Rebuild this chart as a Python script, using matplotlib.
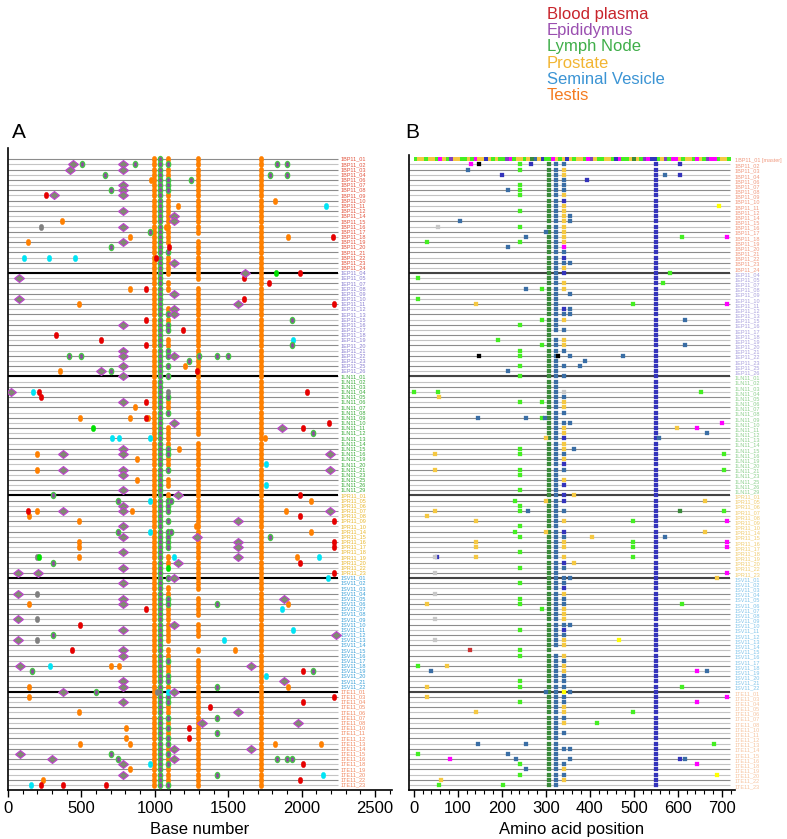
import numpy as np
import matplotlib
matplotlib.use("Agg")
import matplotlib.pyplot as plt
from matplotlib.markers import MarkerStyle
from matplotlib.transforms import Affine2D
from matplotlib.ticker import MultipleLocator

plt.rcParams['font.family'] = ['Liberation Sans', 'DejaVu Sans']

# ---- data ----
tissues = ["Blood plasma", "Epididymus", "Lymph Node", "Prostate", "Seminal Vesicle", "Testis"]
tissue_colors = ['#c8242b', '#9a4fb0', '#3fae49', '#f2b531', '#3b94d4', '#f47b20']

groups = ["1BP11_", "1EP11_", "1LN11_", "1PR11_", "1SV11_", "1TE11_"]
group_ids = [
    ['01','02','03','04','06','07','08','09','10','11','12','14','15','16','17','18','19','20','21','22','23','24'],
    ['04','05','07','08','09','10','11','12','13','15','16','17','18','19','20','21','22','23','25','26'],
    ['01','02','03','04','05','06','07','08','09','10','11','12','13','14','15','16','19','20','21','23','25','26','29'],
    ['01','05','06','07','08','09','10','14','15','16','17','18','19','20','22','23'],
    ['%02d' % i for i in range(1, 23)],
    ['01','03','04','05','06','07','08','10','11','12','13','14','15','16','18','19','20','22','23'],
]
label_colors_a = ['#e2553f', '#8a7fd0', '#3aaa3a', '#e8b830', '#3aa0d8', '#f08860']
label_colors_b = ['#f09a80', '#a9a0dd', '#8fd08f', '#f0cc70', '#80c4ea', '#f6c4a0']

# panel A: conserved columns (base positions) and per-row column codes
a_full_orange = [995, 1725]
a_green_col = 1035
a_col3_x = 1092
a_col3 = ("OGOOGGGOOOOOOOOOO.GOOO"
          "O.OO...OGOGG.OOGG.G.G..KGOOG..OOOOGGOOG.OO."
          "OGGG.G.GGGG.OOL.G.OOGGOOOOOOO.OOGOOGGOCGGOOGOGOGGOGOGOOOG")
a_col4_x = 1292
a_col4_gaps = [15, 24, 54, 84, 89, 93, 94, 96]

# panel A: scattered variants (row, base, type)
a_spots = [
    (1,440,'D'),(1,502,'G'),(1,786,'D'),(1,865,'G'),(1,1835,'G'),(1,1899,'G'),
    (2,422,'D'),(2,786,'D'),
    (3,661,'G'),(3,1785,'G'),(3,1899,'G'),
    (4,972,'O'),(4,1247,'G'),
    (5,786,'D'),
    (6,702,'G'),(6,786,'D'),
    (7,259,'R'),(7,316,'D'),(7,786,'D'),
    (8,1821,'O'),
    (9,1156,'O'),(9,2166,'C'),
    (10,786,'D'),
    (11,1129,'D'),
    (12,370,'O'),(12,1129,'D'),
    (13,223,'K'),(13,786,'D'),(13,1074,'O'),
    (14,965,'G'),
    (15,831,'O'),(15,1905,'O'),(15,2216,'R'),
    (16,139,'O'),(16,786,'D'),
    (17,702,'G'),(17,1097,'R'),
    (19,111,'C'),(19,282,'C'),(19,456,'C'),(19,1006,'R'),
    (20,1129,'D'),
    (22,1614,'D'),(22,1823,'L'),(22,1989,'R'),
    (23,77,'D'),(23,1610,'R'),
    (24,1778,'R'),
    (25,831,'O'),(25,938,'R'),
    (26,1129,'D'),
    (27,77,'D'),(27,1610,'R'),
    (28,484,'O'),(28,1567,'D'),(28,2220,'R'),
    (29,1129,'D'),
    (30,1129,'D'),
    (31,938,'R'),(31,1932,'G'),
    (32,786,'D'),
    (33,1194,'R'),
    (34,329,'R'),
    (35,631,'R'),(35,1944,'C'),
    (36,938,'R'),(36,1932,'G'),
    (37,786,'D'),
    (38,418,'G'),(38,499,'G'),(38,786,'D'),(38,1129,'D'),(38,1303,'G'),(38,1424,'G'),(38,1501,'G'),
    (39,1235,'G'),
    (40,786,'D'),(40,1206,'O'),
    (41,356,'O'),(41,631,'D'),(41,704,'G'),(41,1285,'R'),
    (42,786,'D'),
    (45,23,'D'),(45,168,'C'),(45,214,'R'),(45,2039,'R'),
    (46,223,'R'),
    (47,786,'D'),(47,938,'R'),
    (48,865,'O'),
    (50,493,'O'),(50,831,'O'),(50,938,'R'),(50,951,'O'),
    (51,1129,'D'),(51,2187,'R'),
    (52,577,'L'),(52,1869,'D'),(52,2012,'R'),
    (53,2080,'G'),
    (54,706,'C'),(54,756,'C'),(54,970,'C'),(54,1747,'O'),
    (56,786,'D'),(56,1165,'O'),
    (57,198,'O'),(57,375,'D'),(57,786,'D'),(57,2196,'D'),
    (58,881,'O'),
    (59,1757,'C'),
    (60,198,'O'),(60,375,'D'),(60,786,'D'),(60,2196,'D'),
    (61,786,'D'),
    (62,881,'O'),
    (63,1757,'C'),
    (64,786,'D'),
    (65,309,'G'),(65,1160,'D'),(65,1989,'R'),
    (66,749,'G'),(66,970,'C'),(66,1110,'G'),(66,2064,'O'),
    (67,786,'D'),
    (68,136,'R'),(68,198,'O'),(68,375,'D'),(68,786,'D'),(68,845,'O'),(68,1892,'O'),(68,2196,'D'),
    (69,141,'O'),(69,1989,'R'),
    (70,484,'O'),(70,1567,'D'),(70,2220,'R'),
    (71,786,'D'),(71,1278,'O'),
    (72,749,'G'),(72,970,'C'),(72,1110,'G'),(72,2064,'O'),
    (73,786,'D'),(73,1285,'D'),(73,1785,'G'),
    (74,484,'O'),(74,1567,'D'),(74,2220,'R'),
    (75,484,'O'),(75,1567,'D'),(75,2220,'R'),
    (76,786,'D'),
    (77,195,'K'),(77,214,'L'),(77,484,'O'),(77,1129,'C'),(77,1567,'D'),(77,1966,'O'),(77,2119,'C'),
    (78,309,'G'),(78,1160,'D'),(78,1989,'R'),
    (79,786,'D'),
    (80,70,'D'),(80,202,'D'),(80,2220,'R'),
    (81,1129,'D'),(81,2182,'C'),
    (82,786,'D'),
    (84,70,'D'),(84,195,'K'),
    (85,786,'D'),(85,1880,'D'),
    (86,141,'O'),(86,786,'D'),(86,1424,'G'),(86,1905,'O'),
    (87,938,'R'),(87,1864,'C'),
    (89,70,'D'),(89,195,'K'),
    (90,490,'R'),(90,1129,'D'),
    (91,786,'D'),(91,1944,'C'),
    (92,309,'G'),(92,2232,'D'),
    (93,70,'D'),(93,195,'K'),(93,1469,'C'),
    (95,436,'R'),(95,786,'D'),(95,1544,'O'),
    (96,786,'D'),
    (98,82,'D'),(98,284,'C'),(98,704,'O'),(98,758,'O'),(98,1658,'D'),
    (99,166,'G'),(99,2012,'R'),(99,2080,'G'),
    (100,1757,'C'),
    (101,786,'D'),(101,1880,'D'),
    (102,141,'O'),(102,786,'D'),(102,1424,'G'),(102,1905,'O'),
    (103,375,'D'),(103,602,'G'),(103,1013,'K'),(103,1129,'D'),
    (104,141,'O'),(104,2220,'R'),
    (105,786,'D'),(105,2012,'R'),
    (106,1378,'R'),
    (107,484,'O'),(107,1567,'D'),
    (108,1424,'G'),
    (109,1322,'D'),(109,1978,'D'),
    (110,804,'O'),(110,1235,'R'),
    (111,1424,'G'),
    (112,804,'O'),(112,1235,'R'),
    (113,493,'O'),(113,831,'O'),(113,1821,'O'),(113,2130,'O'),
    (114,1129,'D'),(114,1658,'D'),
    (115,82,'D'),(115,704,'G'),
    (116,298,'D'),(116,751,'G'),(116,1129,'D'),(116,1835,'G'),(116,1899,'G'),(116,1932,'G'),
    (117,786,'D'),(117,970,'C'),(117,2012,'R'),
    (118,831,'O'),
    (119,786,'D'),(119,1424,'G'),(119,2148,'C'),
    (120,238,'O'),(120,1989,'R'),
    (121,155,'C'),(121,227,'R'),(121,377,'R'),(121,668,'R'),
]

# panel B: master row stripe, conserved columns and scattered variants
b_stripe = ("lyylyylmylpyyllylmyybylyllpmlyylygsybllmylybylyylm"
            "pyllyylbmllygylpmbblyplmmylyylmylpmmlyyl")
b_stripe_end = 720
b_dkgreen_x = 308
b_steel_x = 323
b_steel_gaps = [34, 95]
b_col3_x = 342
b_col3 = (".syysssybyyyyyyyymsbsyb"
          ".yy...bsy.s.yys..s.s..asyys.syybyysybs.yb.b"
          "b.s.y.bsyy.ybs.ssbyssyyysbsyy.ysyysssYssyysy.s..s..sysy.")
b_blue_x = 551
b_spots = [
    (1,129,'m'),(1,148,'k'),(1,242,'l'),(1,267,'b'),(1,606,'b'),
    (2,122,'s'),(2,242,'l'),
    (3,201,'b'),(3,570,'s'),(3,606,'b'),
    (4,393,'b'),
    (5,242,'l'),
    (6,214,'s'),(6,242,'l'),
    (7,242,'l'),
    (9,693,'Y'),
    (10,242,'l'),
    (11,354,'s'),
    (12,105,'s'),(12,354,'s'),
    (13,55,'a'),(13,242,'l'),
    (14,300,'s'),
    (15,255,'s'),(15,609,'l'),(15,711,'m'),
    (16,29,'l'),(16,242,'l'),
    (17,214,'s'),
    (20,354,'s'),
    (22,582,'l'),
    (23,10,'l'),
    (24,567,'l'),
    (25,255,'s'),(25,292,'l'),
    (26,354,'s'),
    (27,10,'l'),
    (28,142,'y'),(28,498,'l'),(28,711,'m'),
    (29,354,'s'),
    (30,354,'s'),
    (31,292,'l'),(31,617,'s'),
    (32,242,'l'),
    (35,191,'l'),
    (36,292,'l'),(36,617,'s'),
    (37,242,'l'),
    (38,148,'k'),(38,242,'l'),(38,328,'k'),(38,354,'s'),(38,476,'s'),
    (39,389,'s'),
    (40,242,'l'),(40,378,'s'),
    (41,214,'s'),
    (42,242,'l'),
    (45,0,'l'),(45,54,'l'),(45,652,'l'),
    (46,57,'y'),
    (47,242,'l'),(47,292,'l'),
    (50,146,'s'),(50,255,'s'),(50,292,'l'),(50,298,'s'),
    (51,354,'s'),(51,700,'m'),
    (52,598,'y'),(52,643,'m'),
    (53,666,'s'),
    (54,300,'y'),(54,557,'s'),
    (56,242,'l'),(56,365,'s'),
    (57,48,'y'),(57,242,'l'),(57,704,'l'),
    (60,48,'y'),(60,242,'l'),(60,704,'l'),
    (61,242,'l'),
    (64,242,'l'),
    (65,364,'y'),
    (66,230,'l'),(66,300,'y'),(66,661,'y'),
    (67,242,'l'),
    (68,48,'y'),(68,242,'l'),(68,260,'s'),(68,604,'g'),(68,704,'l'),
    (69,30,'y'),
    (70,142,'y'),(70,498,'l'),(70,711,'m'),
    (71,242,'l'),
    (72,230,'l'),(72,300,'y'),(72,661,'y'),
    (73,242,'l'),(73,405,'y'),(73,570,'s'),
    (74,142,'y'),(74,498,'l'),(74,711,'m'),
    (75,142,'y'),(75,498,'l'),(75,711,'m'),
    (76,242,'l'),
    (77,48,'a'),(77,53,'b'),(77,142,'y'),(77,498,'l'),
    (78,364,'y'),
    (79,242,'l'),
    (80,49,'a'),(80,711,'m'),
    (81,354,'s'),(81,689,'y'),
    (82,242,'l'),
    (84,48,'a'),
    (85,242,'l'),
    (86,30,'y'),(86,242,'l'),(86,609,'l'),
    (87,292,'l'),
    (89,48,'a'),
    (90,354,'s'),
    (91,242,'l'),
    (93,48,'a'),(93,466,'Y'),
    (95,127,'r'),(95,242,'l'),
    (96,242,'l'),
    (98,10,'l'),(98,76,'y'),
    (99,39,'s'),(99,643,'m'),(99,666,'s'),
    (101,242,'l'),
    (102,30,'y'),(102,242,'l'),(102,609,'l'),
    (103,300,'s'),(103,354,'s'),
    (104,30,'y'),(104,711,'m'),
    (105,242,'l'),(105,643,'m'),
    (107,142,'y'),(107,498,'l'),
    (109,417,'l'),
    (113,146,'s'),(113,255,'s'),(113,683,'l'),
    (114,354,'s'),
    (115,10,'l'),(115,214,'s'),
    (116,82,'m'),(116,232,'s'),(116,354,'s'),(116,605,'b'),(116,617,'s'),
    (117,242,'l'),(117,643,'m'),
    (118,255,'s'),
    (119,242,'l'),(119,689,'Y'),
    (120,61,'y'),
    (121,58,'l'),(121,202,'l'),
]

# ---- styles ----
oval = MarkerStyle('o', transform=Affine2D().scale(0.72, 1.0))
diamond = MarkerStyle('D', transform=Affine2D().scale(1.2, 0.85))
a_style = {
    'O': dict(marker=oval, ms=4.6, mfc='#ff8000', mec='#ff8000', mew=0.3),
    'R': dict(marker=oval, ms=4.6, mfc='#e60000', mec='#e60000', mew=0.3),
    'C': dict(marker=oval, ms=4.6, mfc='#00e4f4', mec='#00e4f4', mew=0.3),
    'K': dict(marker=oval, ms=4.6, mfc='#808080', mec='#808080', mew=0.3),
    'L': dict(marker=oval, ms=4.6, mfc='#00e000', mec='#00e000', mew=0.3),
    'G': dict(marker=oval, ms=4.4, mfc='#8a4f9a', mec='#44c844', mew=0.9),
    'D': dict(marker=diamond, ms=4.3, mfc='#7f8a72', mec='#c040d0', mew=0.8),
}
b_colors = {'l': '#44ee22', 'g': '#3a8a3a', 's': '#3a6ea5', 'y': '#f5c842',
            'b': '#3333bb', 'm': '#ff00ff', 'k': '#000000', 'a': '#c8c8c8',
            'Y': '#ffff00', 'r': '#cc3333', 'p': '#8040c0'}

# row layout
rows_per_group = [len(g) for g in group_ids]
starts = np.cumsum([0] + rows_per_group[:-1])
n_rows = sum(rows_per_group)
rows = np.arange(n_rows)

W, H = 787, 839
fig = plt.figure(figsize=(W / 100, H / 100), dpi=100)

def px_y(y):
    return (y - 159.3) / 5.17

axA = fig.add_axes([8 / W, (H - 790) / H, (392 - 8) / W, (790 - 148) / H])
axB = fig.add_axes([409 / W, (H - 790) / H, (735 - 409) / W, (790 - 155) / H])
axA.set_ylim(px_y(790), px_y(148))
axB.set_ylim(px_y(790), px_y(155))
axA.set_xlim(0, 2615)
axB.set_xlim(-11, 730)

# ---- panel A ----
line_cols = ['#8c8c8c' if r % 2 == 0 else '#c4c4c4' for r in rows]
axA.hlines(rows, 0, 2250, colors=line_cols, lw=0.8, zorder=1)
axA.hlines(starts[1:], 0, 2250, colors='black', lw=1.5, zorder=1)

def draw_a(xs, ys, kind):
    if len(xs):
        axA.plot(xs, ys, ls='none', zorder=3, **a_style[kind])

for x in a_full_orange:
    draw_a([x] * n_rows, rows, 'O')
draw_a([a_green_col] * n_rows, rows, 'G')
for kind in 'OGKLC':
    rr = [r for r in rows if a_col3[r] == kind]
    draw_a([a_col3_x] * len(rr), rr, kind)
rr = [r for r in rows if r not in a_col4_gaps]
draw_a([a_col4_x] * len(rr), rr, 'O')
for kind in a_style:
    pts = [(x, r) for r, x, k in a_spots if k == kind]
    if pts:
        xs, ys = zip(*pts)
        draw_a(xs, ys, kind)

for gi, (pre, ids) in enumerate(zip(groups, group_ids)):
    for j, s in enumerate(ids):
        axA.text(2265, starts[gi] + j, pre + s, fontsize=4, color=label_colors_a[gi],
                 va='center', ha='left')

# ---- panel B ----
axB.hlines(rows[1:], -11, 718, colors=line_cols[1:], lw=0.8, zorder=1)
axB.hlines(starts[1:], -11, 718, colors='#444444', lw=1.5, zorder=1)
seg_w = b_stripe_end / len(b_stripe)
axB.bar(np.arange(len(b_stripe)) * seg_w, 0.85, bottom=-0.425, width=seg_w, align='edge',
        color=[b_colors[c] for c in b_stripe], zorder=2)

def draw_b(xs, ys, code):
    if len(xs):
        axB.plot(xs, ys, ls='none', marker='s', ms=3.0, mfc=b_colors[code],
                 mec=b_colors[code], mew=0.2, zorder=3)

draw_b([b_dkgreen_x] * (n_rows - 1), rows[1:], 'g')
rr = [r for r in rows[1:] if r not in b_steel_gaps]
draw_b([b_steel_x] * len(rr), rr, 's')
draw_b([b_blue_x] * (n_rows - 1), rows[1:], 'b')
for code in b_colors:
    rr = [r for r in rows if b_col3[r] == code]
    draw_b([b_col3_x] * len(rr), rr, code)
    pts = [(x, r) for r, x, k in b_spots if k == code]
    if pts:
        xs, ys = zip(*pts)
        draw_b(xs, ys, code)

for gi, (pre, ids) in enumerate(zip(groups, group_ids)):
    for j, s in enumerate(ids):
        txt = pre + s + (" [master]" if gi == 0 and j == 0 else "")
        axB.text(729, starts[gi] + j + 0.3, txt, fontsize=4, color=label_colors_b[gi],
                 va='center', ha='left', clip_on=False)

# ---- axes cosmetics ----
for ax, major, minor, lab in [(axA, 500, 100, "Base number"), (axB, 100, 20, "Amino acid position")]:
    ax.spines['top'].set_visible(False)
    ax.spines['right'].set_visible(False)
    ax.spines['left'].set_linewidth(1.2)
    ax.spines['bottom'].set_linewidth(1.2)
    ax.set_yticks([])
    ax.xaxis.set_major_locator(MultipleLocator(major))
    ax.xaxis.set_minor_locator(MultipleLocator(minor))
    ax.tick_params(axis='x', which='major', length=5, width=1, labelsize=12, pad=3)
    ax.tick_params(axis='x', which='minor', length=3, width=0.8)
    ax.set_xlabel(lab, fontsize=12, labelpad=4)
axA.set_xticks(np.arange(0, 2501, 500))
axB.set_xticks(np.arange(0, 701, 100))

fig.text(12 / W, 1 - 132 / H, "A", fontsize=15, va='center', ha='left')
fig.text(405 / W, 1 - 132 / H, "B", fontsize=15, va='center', ha='left')

for i, (name, c) in enumerate(zip(tissues, tissue_colors)):
    fig.text(547 / W, 1 - (15 + 16 * i) / H, name, color=c, fontsize=12, va='center', ha='left')

fig.savefig("out.png", dpi=100)
